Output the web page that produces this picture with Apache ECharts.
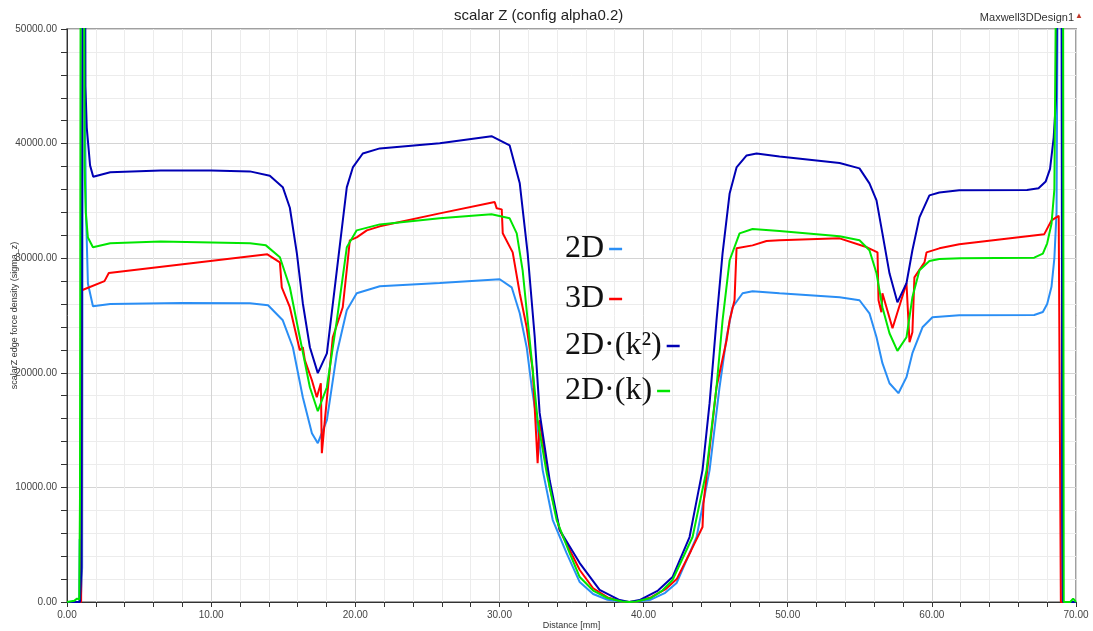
<!DOCTYPE html>
<html>
<head>
<meta charset="utf-8">
<script src="https://cdn.jsdelivr.net/npm/echarts/dist/echarts.min.js"></script>
<style>
  html, body { margin: 0; padding: 0; background: #fff; }
  #chart { width: 1093px; height: 631px; }
</style>
</head>
<body>
<div id="chart"></div>
<script>
// series values as [distance mm, sigma_z] pairs
const data2D = [[0,0],[0.85,0],[0.88,5500],[0.91,300],[0.95,0],[1.05,3000],[1.1,60000],[1.22,60000],[1.25,42000],[1.32,34000],[1.45,27800],[1.8,25800],[3,26000],[8,26100],[12.69,26070],[13.95,25890],[14.97,24580],[15.67,22230],[16.36,17870],[16.99,14730],[17.4,13860],[18.03,15870],[18.72,21700],[19.41,25460],[20.1,26940],[21.7,27550],[25.86,27840],[30.02,28160],[30.85,27460],[31.41,25190],[31.89,22230],[32.24,18740],[32.59,15870],[33.0,11510],[33.7,7150],[34.66,4270],[35.57,1740],[36.5,700],[37.5,200],[38.5,20],[39,0],[39.5,20],[40.5,200],[41.5,800],[42.29,1660],[43.68,5670],[44.58,11510],[45.27,18740],[45.76,23100],[46.17,25720],[46.87,26940],[47.56,27110],[49.43,26940],[53.6,26590],[54.98,26330],[55.67,25190],[56.16,23100],[56.57,20840],[57.06,19090],[57.68,18220],[58.24,19620],[58.65,21710],[59.35,23970],[60.04,24850],[61.9,25020],[67.1,25050],[67.7,25300],[68.0,26000],[68.3,27500],[68.5,30000],[68.65,34000],[68.75,60000],[69.0,60000],[69.05,0],[70,0]];

const data3D = [[0,0],[0.98,0],[1.03,27200],[2.6,28000],[2.9,28700],[13.9,30340],[14.77,29640],[14.9,27460],[15.46,25720],[16.15,21970],[16.36,22230],[16.5,21100],[16.99,19350],[17.33,17870],[17.61,19090],[17.68,12990],[17.89,15870],[18.44,23100],[19.13,25720],[19.48,29820],[19.62,31560],[20.1,31820],[20.8,32430],[21.7,32780],[25.86,33910],[29.67,34900],[29.81,34350],[30.16,34260],[30.23,32170],[30.92,30510],[31.41,26940],[31.89,23970],[32.31,20230],[32.65,12120],[32.79,15870],[33.49,10030],[34.18,6280],[35.57,2790],[36.5,1200],[37.5,400],[38.5,50],[39,0],[39.5,50],[40.5,400],[41.5,1100],[42.3,2000],[43.3,4500],[44.09,6540],[44.16,8630],[45.06,18740],[45.76,22840],[45.97,24580],[46.31,26330],[46.4,26500],[46.45,30860],[47.56,31120],[48.53,31500],[49.43,31560],[53.6,31730],[55.5,30950],[56.23,30510],[56.3,26330],[56.5,25280],[56.57,26940],[57.27,23890],[58.24,27810],[58.45,22670],[58.65,23540],[58.79,28330],[59.49,29640],[59.63,30510],[60.52,30860],[61.9,31210],[67.8,32100],[68.3,33300],[68.8,33700],[68.95,0],[70,0]];

const data2Dk2 = [[0,0],[0.9,0],[1.0,3000],[1.08,60000],[1.25,60000],[1.28,45000],[1.37,41400],[1.6,38100],[1.82,37100],[3,37500],[6.5,37650],[10,37650],[12.69,37575],[14.07,37200],[14.97,36200],[15.46,34400],[15.95,30400],[16.36,26070],[16.85,22230],[17.4,19970],[18.03,21700],[18.72,28940],[19.41,36180],[19.83,37920],[20.52,39140],[21.7,39580],[25.86,40040],[29.45,40650],[30.71,39840],[31.41,36530],[31.96,30400],[32.45,23100],[32.79,16500],[33.49,10600],[34.18,6280],[35.57,3400],[36.95,1050],[38.34,170],[39,0],[39.72,170],[41,1000],[42.01,2180],[43.19,5670],[44.09,11510],[44.58,17350],[45.06,24580],[45.48,30420],[45.97,35650],[46.45,37920],[47.15,38970],[47.84,39140],[49.43,38880],[53.6,38300],[54.98,37840],[55.67,36530],[56.16,35050],[56.57,32170],[57.06,28680],[57.61,26150],[58.24,27810],[58.65,30690],[59.14,33560],[59.83,35480],[60.52,35740],[61.9,35920],[66.6,35950],[67.4,36100],[67.9,36700],[68.2,37800],[68.45,40500],[68.62,44000],[68.75,60000],[69.0,60000],[69.05,7000],[69.1,0],[70,0]];

const data2Dk = [[0,0],[0.5,100],[0.7,300],[0.85,200],[0.9,9000],[0.95,60000],[1.18,60000],[1.22,38000],[1.3,34000],[1.45,31800],[1.8,30950],[3,31300],[6.5,31450],[12.7,31300],[13.8,31120],[14.77,30080],[15.46,27460],[16.15,23100],[16.85,18740],[17.4,16650],[18.03,18740],[18.72,24580],[19.41,30950],[20.1,32430],[21.7,32950],[25.86,33480],[29.45,33830],[30.71,33480],[31.2,32170],[31.61,28940],[31.96,24580],[32.31,20230],[32.65,15870],[33.28,11250],[33.97,7150],[34.87,4270],[35.57,2180],[36.5,1000],[37.5,350],[38.5,40],[39,0],[39.5,40],[40.5,350],[41.3,1000],[42.01,1920],[43.4,5670],[44.37,11510],[45.06,18740],[45.48,24580],[45.97,29820],[46.66,32170],[47.56,32550],[49.43,32370],[53.6,31910],[54.98,31560],[55.67,30690],[56.16,28680],[56.57,25720],[57.06,23450],[57.61,21910],[58.24,23100],[58.65,26590],[59.14,28940],[59.83,29760],[60.52,29930],[62,30000],[67.1,30050],[67.7,30400],[68.0,31300],[68.3,33000],[68.5,36000],[68.65,60000],[69.1,60000],[69.15,0],[69.6,0],[69.8,300],[70,0]];

const seriesNames = ['2D', '3D', '2D\u00b7(k\u00b2)', '2D\u00b7(k)'];
const seriesColors = ['#2a8ef5', '#ff0000', '#0000b4', '#00e600'];
const seriesData = [data2D, data3D, data2Dk2, data2Dk];
const legendTops = [231, 281, 328, 373];

const chart = echarts.init(document.getElementById('chart'));

const minorGrid = { show: true, lineStyle: { color: '#ececec', width: 1 } };
const majorGrid = { show: true, lineStyle: { color: '#d4d4d4', width: 1 } };

chart.setOption({
  animation: false,
  backgroundColor: '#fff',
  title: [
    { text: 'scalar Z (config alpha0.2)', left: 449, top: 3,
      textStyle: { fontSize: 15, fontWeight: 'normal', fontFamily: 'Liberation Sans', color: '#222' } },
    { text: 'Maxwell3DDesign1', right: 14, top: 7,
      textStyle: { fontSize: 11, fontWeight: 'normal', fontFamily: 'Liberation Sans', color: '#333' } },
    { text: '\u25b2', right: 5, top: 7,
      textStyle: { fontSize: 8, fontWeight: 'normal', color: '#c0392b' } }
  ],
  grid: { left: 67, right: 17, top: 29, bottom: 29, show: true, borderColor: '#a0a0a0', borderWidth: 2, outerBoundsMode: 'none' },
  legend: seriesNames.map((name, i) => ({
    orient: 'vertical', left: 565, top: legendTops[i], align: 'right',
    icon: 'rect', itemWidth: 13, itemHeight: 2.5, padding: 0,
    selectedMode: false,
    textStyle: { fontFamily: 'Liberation Serif', fontSize: 32, color: '#111', lineHeight: 36 },
    data: [name]
  })),
  xAxis: {
    type: 'value', min: 0, max: 70, interval: 10,
    name: 'Distance [mm]', nameLocation: 'middle', nameGap: 19, nameMoveOverlap: false,
    nameTextStyle: { fontSize: 9, fontFamily: 'Liberation Sans', color: '#333' },
    axisLine: { show: true, onZero: false, lineStyle: { color: '#333', width: 1 } },
    axisTick: { show: true, length: 5, lineStyle: { color: '#333' } },
    minorTick: { show: true, splitNumber: 5, length: 5, lineStyle: { color: '#333' } },
    axisLabel: { fontSize: 10, fontFamily: 'Liberation Sans', color: '#444', margin: 8,
      formatter: v => v.toFixed(2) },
    splitLine: majorGrid,
    minorSplitLine: minorGrid
  },
  yAxis: {
    type: 'value', min: 0, max: 50000, interval: 10000,
    name: 'scalarZ edge force density (sigma_z)', nameLocation: 'middle', nameGap: 48, nameMoveOverlap: false,
    nameTextStyle: { fontSize: 9, fontFamily: 'Liberation Sans', color: '#333' },
    axisLine: { show: true, onZero: false, lineStyle: { color: '#333', width: 1 } },
    axisTick: { show: true, length: 6, lineStyle: { color: '#333' } },
    minorTick: { show: true, splitNumber: 5, length: 6, lineStyle: { color: '#333' } },
    axisLabel: { fontSize: 10, fontFamily: 'Liberation Sans', color: '#444', margin: 10,
      formatter: v => v.toFixed(2) },
    splitLine: majorGrid,
    minorSplitLine: minorGrid
  },
  series: seriesNames.map((name, i) => ({
    name: name,
    type: 'line',
    data: seriesData[i],
    color: seriesColors[i],
    showSymbol: false,
    symbol: 'none',
    clip: true,
    lineStyle: { color: seriesColors[i], width: 2 },
    z: 2 + i
  }))
});

window.addEventListener('resize', () => chart.resize());
</script>
</body>
</html>
